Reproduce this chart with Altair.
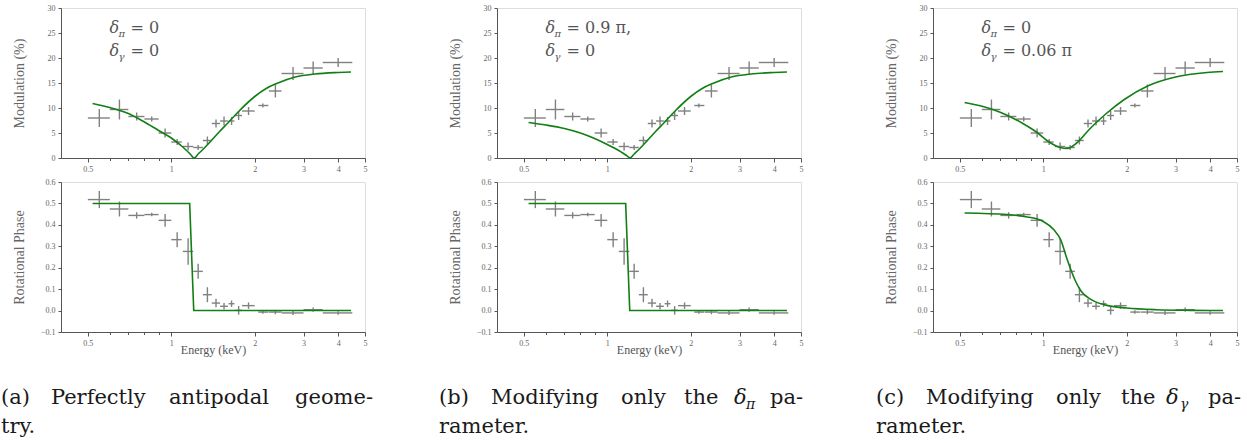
import altair as alt
import pandas as pd

# ---------------- data ----------------
E_MID = [0.55, 0.65, 0.75, 0.85, 0.95, 1.05, 1.15, 1.25, 1.35, 1.45, 1.55, 1.65, 1.75, 1.9, 2.14, 2.375, 2.75, 3.25, 4.0]
E_LO = [0.5, 0.6, 0.7, 0.8, 0.9, 1.0, 1.1, 1.2, 1.3, 1.4, 1.5, 1.61, 1.7, 1.8, 2.06, 2.25, 2.5, 3.0, 3.52]
E_HI = [0.6, 0.7, 0.8, 0.9, 1.0, 1.09, 1.2, 1.3, 1.4, 1.5, 1.6, 1.69, 1.8, 2.0, 2.24, 2.5, 3.0, 3.52, 4.5]

MOD = [8.0, 9.7, 8.3, 7.8, 5.0, 3.2, 2.3, 2.1, 3.5, 6.9, 7.4, 7.4, 8.5, 9.4, 10.5, 13.4, 16.9, 18.0, 19.1]
MOD_ERR = [1.8, 2.0, 0.8, 0.5, 0.9, 0.6, 0.8, 0.5, 0.8, 0.8, 0.9, 0.8, 0.9, 0.8, 0.4, 1.3, 1.3, 1.3, 0.9]

PHASE = [0.518, 0.474, 0.444, 0.448, 0.421, 0.331, 0.276, 0.183, 0.074, 0.035, 0.020, 0.032, 0.001, 0.023,
         -0.007, -0.007, -0.011, 0.004, -0.011]
PHASE_ERR = [0.04, 0.035, 0.015, 0.008, 0.03, 0.035, 0.062, 0.035, 0.035, 0.02, 0.015, 0.015, 0.02, 0.015,
             0.008, 0.01, 0.01, 0.01, 0.008]

# model curves
CURVE_E_AB = [0.52, 0.6, 0.7, 0.8, 0.9, 1.0, 1.1, 1.17, 1.21, 1.25, 1.3, 1.4, 1.5, 1.6, 1.75, 2.0, 2.2, 2.4, 2.8,
              3.3, 4.0, 4.45]
MOD_CURVE_A = [10.9, 10.1, 8.9, 7.2, 5.5, 4.0, 2.2, 0.8, 0.0, 0.8, 1.7, 3.6, 5.4, 7.0, 9.3, 12.3, 13.9, 14.9, 16.2,
               16.8, 17.1, 17.2]
MOD_CURVE_B = [7.1, 6.6, 5.9, 5.0, 3.9, 2.7, 1.5, 0.55, 0.05, 0.8, 1.7, 3.6, 5.4, 7.0, 9.3, 12.3, 13.9, 14.9, 16.2,
               16.8, 17.1, 17.2]
CURVE_E_C = [0.52, 0.65, 0.75, 0.85, 0.95, 1.05, 1.15, 1.22, 1.32, 1.47, 1.68, 1.96, 2.38, 3.0, 3.9, 4.45]
MOD_CURVE_C = [11.1, 9.8, 8.4, 6.8, 5.1, 3.2, 2.1, 1.9, 3.0, 5.8, 8.8, 11.7, 14.4, 16.2, 17.1, 17.3]

PH_E_AB = [0.52, 1.165, 1.205, 4.45]
PH_CURVE_AB = [0.5, 0.5, 0.0, 0.0]
PH_E_C = [0.52, 0.74, 0.875, 1.0, 1.09, 1.155, 1.22, 1.3, 1.37, 1.49, 1.71, 2.0, 2.57, 3.4, 4.45]
PH_CURVE_C = [0.455, 0.448, 0.437, 0.416, 0.378, 0.331, 0.238, 0.144, 0.09, 0.051, 0.023, 0.012, 0.004, 0.001, 0.0]

ANNOT_VALUES = [("0", "0"), ("0.9 π,", "0"), ("0", "0.06 π")]

CAPTIONS = [
    {"words": ["(a)", "Perfectly", "antipodal"], "xs": [0, 50, 168], "last": "geome-", "end": 372,
     "sub": None, "line2": "try."},
    {"words": ["(b)", "Modifying", "only", "the", "δ"], "xs": [0, 52, 182, 245, 295], "last": "pa-", "end": 364,
     "sub": ("π", 307), "line2": "rameter."},
    {"words": ["(c)", "Modifying", "only", "the", "δ"], "xs": [0, 50, 180, 245, 290], "last": "pa-", "end": 365,
     "sub": ("γ", 304), "line2": "rameter."},
]
CAPTION_START = [-60, -58, -57]

X_TICKS = [0.5, 0.6, 0.7, 0.8, 0.9, 1, 2, 3, 4, 5]
MOD_TICKS = [0, 5, 10, 15, 20, 25, 30]
PH_TICKS = [-0.1, 0.0, 0.1, 0.2, 0.3, 0.4, 0.5, 0.6]

# ---------------- style ----------------
W, H = 304, 150
GREY = "#808080"
GREEN = "#117f14"
AXC = "#555555"
LABC = "#666666"
FONT = "Liberation Serif"
CAP_FONT = "DejaVu Serif"

xscale = alt.Scale(type="log", domain=[0.4, 5], nice=False)
major = "indexof([0.5,1,2,3,4,5], datum.value) >= 0"


def x_axis(title):
    kw = dict(values=X_TICKS, format="~g", labelExpr=f"{major} ? datum.label : ''",
              tickSize={"condition": {"test": major, "value": 4}, "value": 2.5},
              grid=False, labelFontSize=8, labelColor=LABC, domainColor=AXC, tickColor=AXC,
              labelFont=FONT, labelPadding=3, labelFlush=False)
    if title:
        return alt.Axis(title=title, titleFont=FONT, titleFontSize=12, titleFontWeight="normal",
                        titleColor="#555555", titleY=17, titleBaseline="middle", **kw)
    return alt.Axis(title=None, **kw)


def y_axis(title, values, fmt):
    return alt.Axis(title=title, values=values, format=fmt, grid=False, labelFontSize=8, labelColor=LABC,
                    domainColor=AXC, tickColor=AXC, tickSize=3, labelFont=FONT, labelPadding=3,
                    titleFont=FONT, titleFontSize=14, titleFontWeight="normal", titleColor="#666666",
                    titleX=-42, titleY=H / 2, titleBaseline="middle", titleAlign="center")


def panel(kind, col):
    is_mod = kind == "mod"
    yscale = alt.Scale(domain=[0, 30] if is_mod else [-0.1, 0.6], nice=False)
    yax = y_axis("Modulation (%)" if is_mod else "Rotational Phase",
                 MOD_TICKS if is_mod else PH_TICKS, "d" if is_mod else ".1f")
    xax = x_axis(None if is_mod else "Energy (keV)")

    def X(f):
        return alt.X(f, type="quantitative", scale=xscale, axis=xax)

    def Y(f):
        return alt.Y(f, type="quantitative", scale=yscale, axis=yax)

    vals = MOD if is_mod else PHASE
    errs = MOD_ERR if is_mod else PHASE_ERR
    df = pd.DataFrame({"mid": E_MID, "lo": E_LO, "hi": E_HI, "v": vals,
                       "vlo": [a - b for a, b in zip(vals, errs)],
                       "vhi": [a + b for a, b in zip(vals, errs)]})
    xerr = alt.Chart(df).mark_rule(color=GREY, strokeWidth=1.4).encode(x=X("lo"), x2="hi", y=Y("v"))
    yerr = alt.Chart(df).mark_rule(color=GREY, strokeWidth=1.4).encode(x=X("mid"), y=Y("vlo"), y2="vhi")

    if is_mod:
        ce = CURVE_E_C if col == 2 else CURVE_E_AB
        cv = [MOD_CURVE_A, MOD_CURVE_B, MOD_CURVE_C][col]
        interp = "monotone"
    else:
        ce = PH_E_C if col == 2 else PH_E_AB
        cv = PH_CURVE_C if col == 2 else PH_CURVE_AB
        interp = "monotone" if col == 2 else "linear"
    cdf = pd.DataFrame({"E": ce, "v": cv})
    curve = alt.Chart(cdf).mark_line(color=GREEN, strokeWidth=1.6, interpolate=interp).encode(x=X("E"), y=Y("v"))

    layers = [xerr, yerr, curve]

    if is_mod:
        v1, v2 = ANNOT_VALUES[col]
        for sym, val, yv in [("π", v1, 25.1), ("γ", v2, 20.4)]:
            d = pd.DataFrame({"E": [0.598], "v": [yv], "a": ["δ"], "s": [sym], "r": ["= " + val]})
            layers.append(alt.Chart(d).mark_text(align="left", baseline="alphabetic", font=CAP_FONT, fontSize=16,
                                                 fontStyle="italic", color="#555555")
                          .encode(x=X("E"), y=Y("v"), text="a:N"))
            layers.append(alt.Chart(d).mark_text(align="left", baseline="alphabetic", font=CAP_FONT, fontSize=10,
                                                 fontStyle="italic", color="#555555", dx=9, dy=4)
                          .encode(x=X("E"), y=Y("v"), text="s:N"))
            layers.append(alt.Chart(d).mark_text(align="left", baseline="alphabetic", font=CAP_FONT, fontSize=16,
                                                 color="#555555", dx=21)
                          .encode(x=X("E"), y=Y("v"), text="r:N"))
    else:
        cap = CAPTIONS[col]
        x0 = CAPTION_START[col]
        y1, y2 = 222, 251
        fs = 21
        for w, xo in zip(cap["words"], cap["xs"]):
            style = "italic" if w == "δ" else "normal"
            layers.append(alt.Chart(pd.DataFrame({"t": [w]})).mark_text(
                align="left", baseline="alphabetic", font=CAP_FONT, fontSize=fs, fontStyle=style, color="#1a1a1a")
                .encode(x=alt.value(x0 + xo), y=alt.value(y1), text="t:N"))
        layers.append(alt.Chart(pd.DataFrame({"t": [cap["last"]]})).mark_text(
            align="right", baseline="alphabetic", font=CAP_FONT, fontSize=fs, color="#1a1a1a")
            .encode(x=alt.value(x0 + cap["end"]), y=alt.value(y1), text="t:N"))
        if cap["sub"]:
            s, sx = cap["sub"]
            layers.append(alt.Chart(pd.DataFrame({"t": [s]})).mark_text(
                align="left", baseline="alphabetic", font=CAP_FONT, fontSize=14, fontStyle="italic", color="#1a1a1a")
                .encode(x=alt.value(x0 + sx), y=alt.value(y1 + 5), text="t:N"))
        layers.append(alt.Chart(pd.DataFrame({"t": [cap["line2"]]})).mark_text(
            align="left", baseline="alphabetic", font=CAP_FONT, fontSize=fs, color="#1a1a1a")
            .encode(x=alt.value(x0), y=alt.value(y2), text="t:N"))

    return alt.layer(*layers).properties(width=W, height=H)


panels = [panel("mod", c) for c in range(3)] + [panel("ph", c) for c in range(3)]
chart = alt.concat(*panels, columns=3, spacing={"row": 24, "column": 132}, bounds="flush").properties(
    padding={"left": 0, "top": 3, "right": 0, "bottom": 0},
).configure_view(stroke=None).configure(background="white", font=FONT)

chart.save("out.html", embed_options={"renderer": "svg", "actions": False})
